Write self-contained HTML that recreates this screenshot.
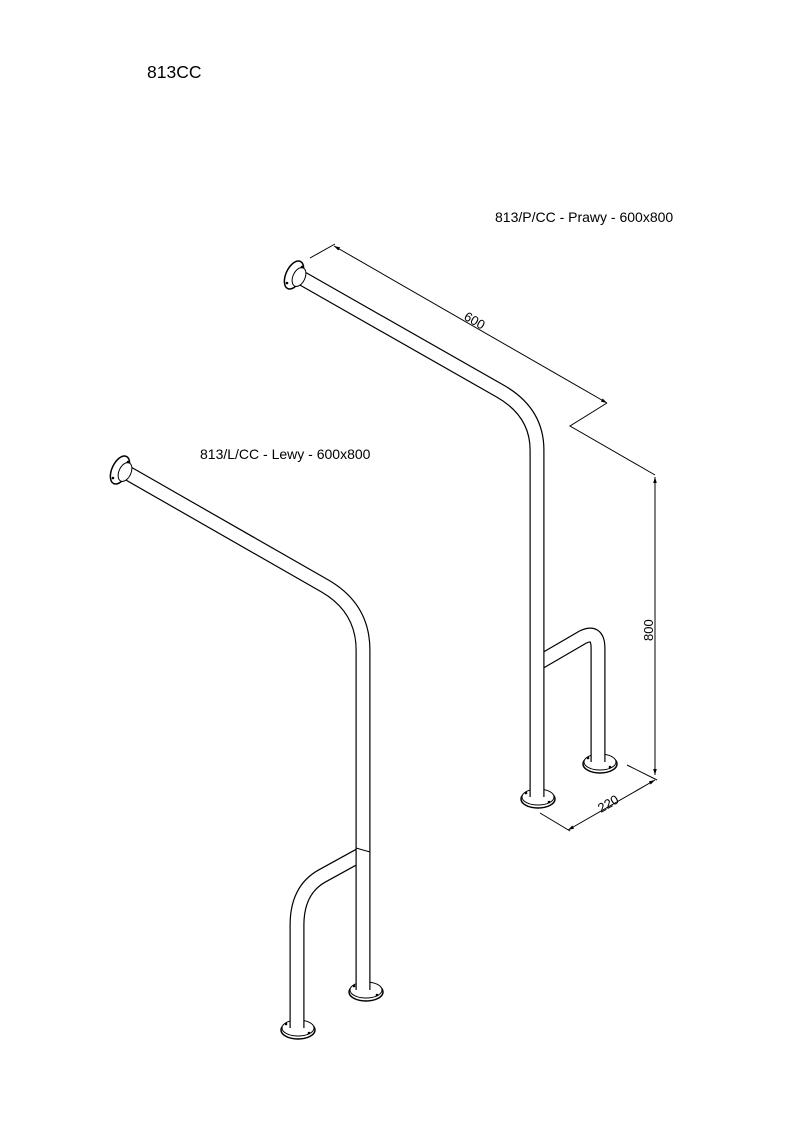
<!DOCTYPE html>
<html><head><meta charset="utf-8"><style>
html,body{margin:0;padding:0;background:#fff}
svg{display:block}
text{font-family:"Liberation Sans",Arial,sans-serif;fill:#000}
</style></head><body>
<svg width="793" height="1123" viewBox="0 0 793 1123" xmlns="http://www.w3.org/2000/svg">
<defs>
<marker id="ar" viewBox="0 0 10 10" refX="10" refY="5" markerWidth="8" markerHeight="6" orient="auto-start-reverse" markerUnits="userSpaceOnUse"><path d="M0,2 L10,5 L0,8z" fill="#000"/></marker>
</defs>
<text x="147" y="78" font-size="17.5">813CC</text>
<text x="495" y="222" font-size="14">813/P/CC - Prawy - 600x800</text>
<text x="200" y="459" font-size="14">813/L/CC - Lewy - 600x800</text>

<g fill="none" stroke-linejoin="round">
<!-- flanges -->
<ellipse cx="294" cy="275" rx="8" ry="15" transform="rotate(25 294 275)" fill="#fff" stroke="#000" stroke-width="1.5"/>
<ellipse cx="120" cy="470" rx="8" ry="15" transform="rotate(25 120 470)" fill="#fff" stroke="#000" stroke-width="1.5"/>
<ellipse cx="538" cy="799" rx="17" ry="9" fill="#fff" stroke="#000" stroke-width="1.5"/>
<ellipse cx="538" cy="797" rx="16" ry="8" fill="#fff" stroke="#000" stroke-width="1"/>
<ellipse cx="600" cy="764" rx="17" ry="9" fill="#fff" stroke="#000" stroke-width="1.5"/>
<ellipse cx="600" cy="762" rx="16" ry="8" fill="#fff" stroke="#000" stroke-width="1"/>
<ellipse cx="366" cy="992" rx="17" ry="9" fill="#fff" stroke="#000" stroke-width="1.5"/>
<ellipse cx="366" cy="990" rx="16" ry="8" fill="#fff" stroke="#000" stroke-width="1"/>
<ellipse cx="298" cy="1030" rx="17" ry="9" fill="#fff" stroke="#000" stroke-width="1.5"/>
<ellipse cx="298" cy="1028" rx="16" ry="8" fill="#fff" stroke="#000" stroke-width="1"/>

<!-- RIGHT UNIT -->
<path d="M540,662 L583,637 Q598,630 598,648 L598,762" stroke="#000" stroke-width="15"/>
<path d="M540,662 L583,637 Q598,630 598,648 L598,764" stroke="#fff" stroke-width="12.6"/>
<path d="M298,276 L500,391 Q537,412 537,450 L537,797" stroke="#000" stroke-width="15"/>
<path d="M298,276 L500,391 Q537,412 537,450 L537,799" stroke="#fff" stroke-width="12.6"/>
<path d="M544,656 L544,668" stroke="#000" stroke-width="1"/>

<!-- LEFT UNIT -->
<path d="M362,854 L322,876 Q297,890 297,925 L297,1028" stroke="#000" stroke-width="15"/>
<path d="M362,854 L322,876 Q297,890 297,925 L297,1030" stroke="#fff" stroke-width="12.6"/>
<path d="M124,471 L325,586 Q363,608 363,650 L363,990" stroke="#000" stroke-width="15"/>
<path d="M124,471 L325,586 Q363,608 363,650 L363,992" stroke="#fff" stroke-width="12.6"/>
<path d="M356,848 L370,852" stroke="#000" stroke-width="1"/>

<!-- wall flange inner -->
<ellipse cx="299" cy="277" rx="6" ry="10" transform="rotate(25 299 277)" fill="#fff" stroke="#000" stroke-width="1"/>
<ellipse cx="125" cy="472" rx="6" ry="10" transform="rotate(25 125 472)" fill="#fff" stroke="#000" stroke-width="1"/>
</g>
<g fill="#000">
<circle cx="287" cy="283" r="1.3"/><circle cx="302" cy="267" r="1.3"/>
<circle cx="113" cy="478" r="1.3"/><circle cx="128" cy="462" r="1.3"/>
<circle cx="526" cy="793" r="1.3"/><circle cx="549" cy="802" r="1.3"/>
<circle cx="588" cy="758" r="1.3"/><circle cx="610" cy="767" r="1.3"/>
<circle cx="354" cy="986" r="1.3"/><circle cx="377" cy="995" r="1.3"/>
<circle cx="286" cy="1024" r="1.3"/><circle cx="309" cy="1033" r="1.3"/>
</g>

<!-- dimensions -->
<g fill="none" stroke="#000" stroke-width="1">
<path d="M310,258 L335,244"/>
<path d="M334,246 L607,403" marker-start="url(#ar)" marker-end="url(#ar)"/>
<path d="M607,403 L570,426 L655,475"/>
<path d="M655,477 L655,775" marker-start="url(#ar)" marker-end="url(#ar)"/>
<path d="M627,765 L657,780"/>
<path d="M655,780 L568,830" marker-start="url(#ar)" marker-end="url(#ar)"/>
<path d="M540,813 L570,831"/>
</g>
<text font-size="13" transform="translate(463,319) rotate(30)">600</text>
<text font-size="13" transform="translate(653,641) rotate(-90)">800</text>
<text font-size="13" transform="translate(601,813) rotate(-30)">220</text>
</svg>
</body></html>
